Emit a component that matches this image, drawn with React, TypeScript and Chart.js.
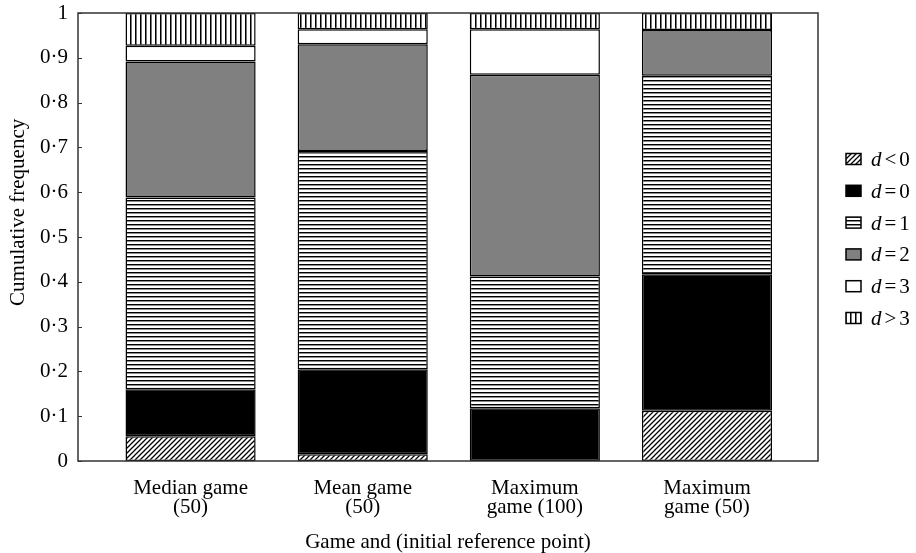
import React, { useEffect, useRef } from 'react';
import { Chart, registerables } from 'chart.js';

Chart.register(...registerables);

// Categories (game and initial reference point), one per bar position 0..3
const categories = ['Median game (50)', 'Mean game (50)', 'Maximum game (100)', 'Maximum game (50)'];
const tickLabels: string[][] = [
  ['Median game', '(50)'],
  ['Mean game', '(50)'],
  ['Maximum', 'game (100)'],
  ['Maximum', 'game (50)'],
];

// Frequency of each distance class d, per game (stacks sum to 1)
const dLt0 = [0.055, 0.015, 0.0, 0.112];
const dEq0 = [0.105, 0.19, 0.118, 0.305];
const dEq1 = [0.428, 0.487, 0.294, 0.443];
const dEq2 = [0.304, 0.238, 0.45, 0.102];
const dEq3 = [0.035, 0.034, 0.102, 0.0];
const dGt3 = [0.073, 0.036, 0.036, 0.038];

const yTicks = [0, 0.1, 0.2, 0.3, 0.4, 0.5, 0.6, 0.7, 0.8, 0.9, 1];

const legendOps = ['<', '=', '=', '=', '=', '>'];
const legendVals = ['0', '0', '1', '2', '3', '3'];

const yTitle = 'Cumulative frequency';
const xTitle = 'Game and (initial reference point)';

const FONT = "'Liberation Serif', 'Times New Roman', serif";
const FS = 21;

type Kind = 'diag' | 'black' | 'hlines' | 'gray' | 'white' | 'vlines';

function makeFill(kind: Kind): string | CanvasPattern {
  if (kind === 'black') return '#000000';
  if (kind === 'gray') return '#808080';
  if (kind === 'white') return '#ffffff';
  const c = document.createElement('canvas');
  const ctx = c.getContext('2d')!;
  if (kind === 'diag') {
    c.width = 5;
    c.height = 5;
    ctx.fillStyle = '#fff';
    ctx.fillRect(0, 0, 5, 5);
    ctx.strokeStyle = '#000';
    ctx.lineWidth = 1.3;
    ctx.beginPath();
    ctx.moveTo(-1, 6);
    ctx.lineTo(6, -1);
    ctx.moveTo(-1, 1);
    ctx.lineTo(1, -1);
    ctx.moveTo(4, 6);
    ctx.lineTo(6, 4);
    ctx.stroke();
  } else if (kind === 'hlines') {
    c.width = 4;
    c.height = 4;
    ctx.fillStyle = '#fff';
    ctx.fillRect(0, 0, 4, 4);
    ctx.fillStyle = '#000';
    ctx.fillRect(0, 0, 4, 1);
    ctx.fillStyle = '#8a8a8a';
    ctx.fillRect(0, 1, 4, 1);
  } else {
    c.width = 5;
    c.height = 5;
    ctx.fillStyle = '#fff';
    ctx.fillRect(0, 0, 5, 5);
    ctx.fillStyle = '#000';
    ctx.fillRect(0, 0, 1, 5);
    ctx.fillStyle = '#777';
    ctx.fillRect(1, 0, 1, 5);
  }
  return ctx.createPattern(c, 'repeat')!;
}

export default function App() {
  const canvasRef = useRef<HTMLCanvasElement | null>(null);

  useEffect(() => {
    if (!canvasRef.current) return;
    const kinds: Kind[] = ['diag', 'black', 'hlines', 'gray', 'white', 'vlines'];
    const fills = kinds.map(makeFill);
    const series = [dLt0, dEq0, dEq1, dEq2, dEq3, dGt3];
    const names = ['d < 0', 'd = 0', 'd = 1', 'd = 2', 'd = 3', 'd > 3'];

    const datasets = series.map((vals, si) => ({
      label: names[si],
      data: vals.map((v, i) => ({ x: i, y: v })),
      backgroundColor: fills[si],
      borderColor: '#000',
      borderWidth: 1.5,
      borderSkipped: false as const,
      barPercentage: 0.756,
      categoryPercentage: 1.0,
    }));

    const framePlugin = {
      id: 'frameAndLegend',
      afterDraw(chart: any) {
        const { ctx, chartArea } = chart;
        const { left, right, top, bottom } = chartArea;
        ctx.save();
        // frame around the plot
        ctx.strokeStyle = '#333';
        ctx.lineWidth = 1.5;
        ctx.strokeRect(left, top, right - left, bottom - top);
        // inward ticks on the value axis
        const ys = chart.scales.y;
        ctx.beginPath();
        yTicks.forEach((t) => {
          const py = Math.round(ys.getPixelForValue(t)) + 0.5;
          ctx.moveTo(left, py);
          ctx.lineTo(left + 4, py);
        });
        ctx.lineWidth = 1.2;
        ctx.stroke();

        // value-axis title, set a little above the middle of the axis
        ctx.save();
        ctx.translate(18, top + (bottom - top) * 0.445);
        ctx.rotate(-Math.PI / 2);
        ctx.font = `${FS}px ${FONT}`;
        ctx.fillStyle = '#000';
        ctx.textAlign = 'center';
        ctx.textBaseline = 'middle';
        ctx.fillText(yTitle, 0, 0);
        ctx.restore();

        // legend with italic d
        const bx = 846;
        const y0 = 159;
        const step = 31.8;
        ctx.textBaseline = 'alphabetic';
        ctx.textAlign = 'left';
        names.forEach((_, i) => {
          const yc = y0 + i * step;
          ctx.fillStyle = fills[i] as any;
          ctx.fillRect(bx, yc - 5.5, 15, 11);
          ctx.strokeStyle = '#000';
          ctx.lineWidth = 1.5;
          ctx.strokeRect(bx, yc - 5.5, 15, 11);
          ctx.fillStyle = '#000';
          let tx = 871;
          const base = yc + 7;
          ctx.font = `italic ${FS}px ${FONT}`;
          ctx.fillText('d', tx, base);
          tx += ctx.measureText('d').width + 3;
          ctx.font = `${FS}px ${FONT}`;
          ctx.fillText(legendOps[i], tx, base);
          tx += ctx.measureText(legendOps[i]).width + 3;
          ctx.fillText(legendVals[i], tx, base);
        });
        ctx.restore();
      },
    };

    const chart = new Chart(canvasRef.current, {
      type: 'bar',
      data: { datasets },
      options: {
        animation: false,
        responsive: true,
        maintainAspectRatio: false,
        layout: { padding: { left: 0, top: 13, right: 98, bottom: 0 } },
        plugins: {
          legend: { display: false },
          tooltip: { enabled: false },
        },
        scales: {
          x: {
            type: 'linear',
            stacked: true,
            offset: false,
            min: -0.654,
            max: 3.645,
            afterBuildTicks: (scale: any) => {
              scale.ticks = categories.map((_, i) => ({ value: i }));
            },
            afterFit: (scale: any) => {
              scale.height = 92;
            },
            grid: { display: false, drawTicks: false, offset: false },
            border: { display: false },
            ticks: {
              autoSkip: false,
              maxRotation: 0,
              padding: 18,
              color: '#000',
              font: { family: FONT, size: FS, lineHeight: 0.92 },
              callback: (v: any) => tickLabels[Math.round(Number(v))] ?? '',
            },
            title: {
              display: true,
              text: xTitle,
              color: '#000',
              font: { family: FONT, size: FS, lineHeight: 1 },
              padding: { top: 0, bottom: 0 },
            },
          },
          y: {
            stacked: true,
            min: 0,
            max: 1,
            afterBuildTicks: (scale: any) => {
              scale.ticks = yTicks.map((v) => ({ value: v }));
            },
            afterFit: (scale: any) => {
              scale.width = 78;
            },
            grid: { display: false, drawTicks: true, tickLength: 10 },
            border: { display: false },
            ticks: {
              padding: 0,
              color: '#000',
              font: { family: FONT, size: FS, lineHeight: 1 },
              callback: (v: any) => {
                const n = Math.round(Number(v) * 10);
                if (n === 0) return '0';
                if (n === 10) return '1';
                return '0·' + n;
              },
            },
          },
        },
      },
      plugins: [framePlugin],
    });

    return () => chart.destroy();
  }, []);

  return (
    <div style={{ position: 'fixed', left: 0, top: 0, width: 916, height: 553, background: '#fff' }}>
      <canvas ref={canvasRef} />
    </div>
  );
}
